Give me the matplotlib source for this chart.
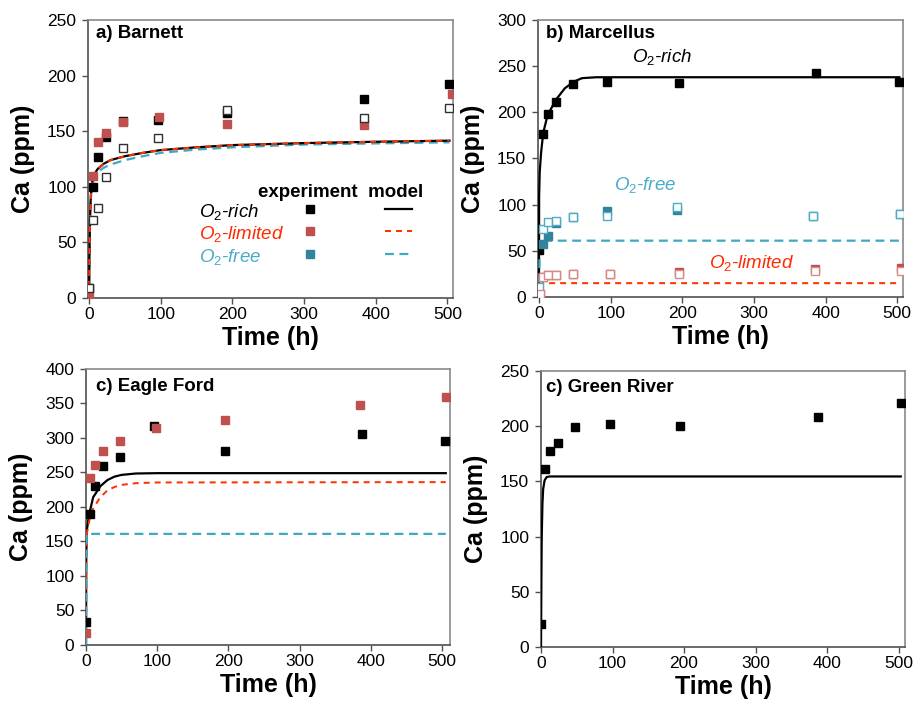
import matplotlib
matplotlib.use("Agg")
import matplotlib.pyplot as plt
from matplotlib.lines import Line2D

plt.rcParams['font.family'] = ['Liberation Sans', 'DejaVu Sans']
plt.rcParams['mathtext.fontset'] = 'custom'
plt.rcParams['mathtext.rm'] = 'Liberation Sans'
plt.rcParams['mathtext.it'] = 'Liberation Sans:italic'
plt.rcParams['mathtext.bf'] = 'Liberation Sans:bold'

# ---------------- colours ----------------
C_BLACK = '#000000'
C_RED_M = '#C0504D'
C_TEAL_M = '#31849B'
C_RED_L = '#FF3300'
C_TEAL_L = '#3FA9C2'
C_RED_OPEN = '#D58A88'
C_TEAL_OPEN = '#4BACC6'

# ---------------- a) Barnett ----------------
a_t = [0, 6, 12, 24, 48, 96, 192, 384, 503]
a_rich = [9, 100, 127, 145, 159, 160.5, 166.5, 179, 192]
a_lim_t = [0, 6, 12, 24, 48, 98, 192, 384, 506]
a_lim = [4, 109.5, 140, 148.5, 158, 163, 156.5, 156, 183]
a_open = [9, 70, 80.5, 109, 135, 144, 169, 162, 171]

a_mod_t = [0, 0.5, 1, 2, 3, 5, 8, 12, 20, 30, 50, 75, 100, 150, 200, 300, 400, 503]
a_mod_rich = [0, 35, 60, 85, 97, 107, 112, 116, 120.5, 124, 127.5, 130.5, 133, 135.5, 137.5, 139.3, 140.5, 141.5]
a_mod_lim = [0, 35, 60, 85, 97, 107, 112, 116, 120.5, 124, 127.5, 130.5, 133, 135.5, 137.5, 139.3, 140.5, 141.5]
a_mod_free = [0, 33, 58, 82, 94, 103, 109, 113, 117, 120, 124, 127.5, 130.5, 133.5, 135.5, 138, 139, 140]

# ---------------- b) Marcellus ----------------
b_t = [0, 6, 12, 24, 48, 95, 195, 386, 503]
b_rich = [50.5, 177, 198, 211.5, 230.5, 232.5, 231.5, 242.5, 232.5]
b_free_t = [0, 6, 12, 24, 48, 95, 192, 383, 504]
b_free = [4.7, 57.5, 66.5, 80, 87, 92.8, 94, 88, 90]
b_free_open = [10.8, 73.7, 81.7, 82.7, 87, 88, 97, 88, 90]
b_lim_t = [1, 5, 12, 24, 48, 99, 195, 385, 505]
b_lim = [3, 21.6, 24, 24, 25, 25, 27, 30.5, 31]
b_lim_open = [3, 21.6, 24, 24, 25, 25, 24.5, 27.7, 28]

b_mod_rich_t = [0, 0.2, 1, 3, 6, 12, 24, 36, 48, 60, 80, 503]
b_mod_rich = [0, 110, 135, 157, 178, 197, 214, 226, 233, 237, 238, 238]
b_mod_free_t = [0, 1, 5, 503]
b_mod_free = [0, 55, 61, 61]
b_mod_lim_t = [0, 1, 5, 503]
b_mod_lim = [0, 13, 15, 15]

# ---------------- c) Eagle Ford ----------------
c_t = [0, 5, 12, 24, 48, 95, 195, 387, 504]
c_rich = [33.5, 189.5, 231, 259.5, 272, 318, 281.5, 306, 295.5]
c_lim_t = [0, 6, 12, 24, 48, 98, 195, 385, 506]
c_lim = [17, 242, 261.5, 280.5, 296, 314.5, 325.5, 348, 359]

c_mod_t = [0, 0.3, 1, 3, 5, 10, 20, 30, 40, 50, 70, 100, 505]
c_mod_rich = [0, 120, 165, 180, 192, 214, 230, 239, 244, 246.5, 248.5, 249, 249]
c_mod_lim = [0, 110, 160, 172, 182, 198, 214, 224, 229, 232, 234.5, 235.5, 236]
c_mod_free_t = [0, 1, 505]
c_mod_free = [0, 161, 161]

# ---------------- d) Green River ----------------
d_t = [0, 6, 12, 24, 48, 96, 195, 387, 503]
d_rich = [20.5, 161, 178, 185, 199, 201.7, 200, 208.6, 220.7]
d_mod_t = [0, 0.5, 1, 2, 3, 5, 8, 12, 503]
d_mod = [0, 60, 100, 130, 143, 151, 154, 154.5, 154.5]

MS = 5.2
LW = 1.6


def style_axes(ax, ylim, yticks, xlim):
    ax.set_xlim(*xlim)
    ax.set_ylim(*ylim)
    ax.set_xticks([0, 100, 200, 300, 400, 500])
    ax.set_yticks(yticks)
    for s in ['left', 'bottom']:
        ax.spines[s].set_color('#505050')
        ax.spines[s].set_linewidth(1.2)
    for s in ['top', 'right']:
        ax.spines[s].set_color('#8a8a8a')
        ax.spines[s].set_linewidth(1.2)
    ax.tick_params(axis='both', direction='out', length=4.5, width=1, color='#505050',
                   labelsize=12.5, top=False, right=False)
    ax.tick_params(axis='x', pad=2)
    ax.tick_params(axis='y', pad=4)
    ax.set_xlabel('Time (h)', fontsize=18, fontweight='bold', labelpad=3)
    ax.set_ylabel('Ca (ppm)', fontsize=18, fontweight='bold', labelpad=8.5)


def filled(ax, t, v, c, z=4):
    ax.plot(t, v, ls='none', marker='s', ms=MS, mfc=c, mec=c, zorder=z)


def opened(ax, t, v, c, z=5):
    ax.plot(t, v, ls='none', marker='s', ms=MS, mfc='white', mec=c, mew=1.0, zorder=z)


fig = plt.figure(figsize=(9.19, 7.09), dpi=100)
ax_a = fig.add_axes([0.0958, 0.5797, 0.3972, 0.3921])
ax_b = fig.add_axes([0.5854, 0.5811, 0.3972, 0.3907])
ax_c = fig.add_axes([0.0936, 0.0903, 0.3961, 0.3893])
ax_d = fig.add_axes([0.5887, 0.0874, 0.3961, 0.3893])

# ---- panel a ----
ax = ax_a
ax.plot(a_mod_t, a_mod_free, color=C_TEAL_L, lw=LW, ls=(0, (4, 2.5)), zorder=3)
ax.plot(a_mod_t, a_mod_rich, color=C_BLACK, lw=LW, zorder=3)
ax.plot(a_mod_t, a_mod_lim, color=C_RED_L, lw=LW * 0.9, ls=(0, (3, 2.5)), zorder=3)
filled(ax, a_t, a_rich, C_BLACK)
filled(ax, a_lim_t, a_lim, C_RED_M)
opened(ax, a_t, a_open, '#303030')
style_axes(ax, (0, 250), [0, 50, 100, 150, 200, 250], (-1.4, 508))
ax.text(0.022, 0.95, 'a) Barnett', transform=ax.transAxes, fontsize=13.5,
        fontweight='bold', va='center', ha='left')
# legend-like key
ax.text(0.466, 0.381, 'experiment  model', transform=ax.transAxes, fontsize=13.5,
        fontweight='bold', va='center', ha='left')
ax.text(0.304, 0.309, '$O_2$-rich', transform=ax.transAxes, fontsize=13.5,
        style='italic', color=C_BLACK, va='center', ha='left')
ax.text(0.304, 0.230, '$O_2$-limited', transform=ax.transAxes, fontsize=13.5,
        style='italic', color='#FF2A00', va='center', ha='left')
ax.text(0.304, 0.147, '$O_2$-free', transform=ax.transAxes, fontsize=13.5,
        style='italic', color=C_TEAL_OPEN, va='center', ha='left')
handles = [
    Line2D([], [], ls='none', marker='s', ms=MS, mfc=C_BLACK, mec=C_BLACK),
    Line2D([], [], ls='none', marker='s', ms=MS, mfc=C_RED_M, mec=C_RED_M),
    Line2D([], [], ls='none', marker='s', ms=MS, mfc=C_TEAL_M, mec=C_TEAL_M),
    Line2D([], [], color=C_BLACK, lw=LW),
    Line2D([], [], color=C_RED_L, lw=LW * 0.9, ls=(0, (3, 2.5))),
    Line2D([], [], color=C_TEAL_L, lw=LW, ls=(0, (4, 2.5))),
]
leg = ax.legend(handles, [''] * 6, ncol=2, frameon=False, fontsize=13.5,
                handlelength=1.45, handletextpad=0, columnspacing=3.3,
                labelspacing=0.3, borderpad=0, borderaxespad=0,
                loc='upper left', bbox_to_anchor=(0.570, 0.345))

# ---- panel b ----
ax = ax_b
filled(ax, b_t, b_rich, C_BLACK)
filled(ax, b_free_t, b_free, C_TEAL_M)
opened(ax, b_free_t, b_free_open, C_TEAL_OPEN)
filled(ax, b_lim_t, b_lim, C_RED_M)
opened(ax, b_lim_t, b_lim_open, C_RED_OPEN)
ax.plot(b_mod_rich_t, b_mod_rich, color=C_BLACK, lw=LW, zorder=3)
ax.plot(b_mod_free_t, b_mod_free, color=C_TEAL_L, lw=LW, ls=(0, (4, 2.5)), zorder=3)
ax.plot(b_mod_lim_t, b_mod_lim, color=C_RED_L, lw=LW * 0.9, ls=(0, (3, 2.5)), zorder=3)
style_axes(ax, (0, 300), [0, 50, 100, 150, 200, 250, 300], (-1.4, 508))
ax.text(0.022, 0.95, 'b) Marcellus', transform=ax.transAxes, fontsize=13.5,
        fontweight='bold', va='center', ha='left')
ax.text(130, 260, '$O_2$-rich', fontsize=13.5, style='italic', color=C_BLACK,
        va='center', ha='left')
ax.text(104, 121, '$O_2$-free', fontsize=13.5, style='italic', color=C_TEAL_OPEN,
        va='center', ha='left')
ax.text(237, 37, '$O_2$-limited', fontsize=13.5, style='italic', color='#FF2A00',
        va='center', ha='left')

# ---- panel c ----
ax = ax_c
filled(ax, c_t, c_rich, C_BLACK)
filled(ax, c_lim_t, c_lim, C_RED_M)
ax.plot(c_mod_t, c_mod_rich, color=C_BLACK, lw=LW, zorder=3)
ax.plot(c_mod_t, c_mod_lim, color=C_RED_L, lw=LW * 0.9, ls=(0, (3, 2.5)), zorder=3)
ax.plot(c_mod_free_t, c_mod_free, color=C_TEAL_L, lw=LW, ls=(0, (4, 2.5)), zorder=3)
style_axes(ax, (0, 400), [0, 50, 100, 150, 200, 250, 300, 350, 400], (0, 511))
ax.text(0.027, 0.935, 'c) Eagle Ford', transform=ax.transAxes, fontsize=13.5,
        fontweight='bold', va='center', ha='left')

# ---- panel d ----
ax = ax_d
filled(ax, d_t, d_rich, C_BLACK)
ax.plot(d_mod_t, d_mod, color=C_BLACK, lw=LW, zorder=3)
style_axes(ax, (0, 250), [0, 50, 100, 150, 200, 250], (0, 509))
ax.text(0.014, 0.942, 'c) Green River', transform=ax.transAxes, fontsize=13.5,
        fontweight='bold', va='center', ha='left')

fig.savefig('out.png', dpi=100)
